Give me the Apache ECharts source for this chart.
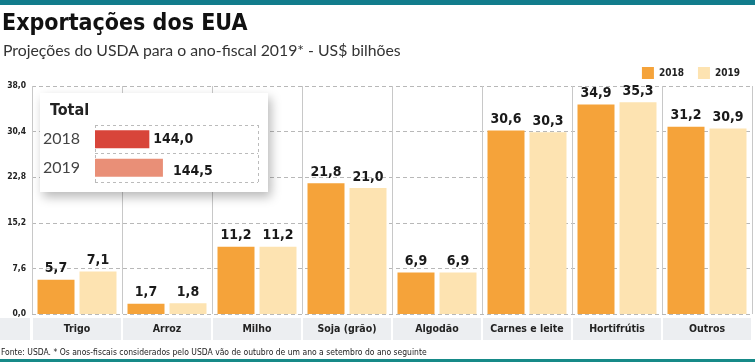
<!DOCTYPE html>
<html><head><meta charset="utf-8">
<script src="https://cdn.jsdelivr.net/npm/echarts@6/dist/echarts.min.js"></script>
<style>html,body{margin:0;padding:0;background:#fff}#c{width:755px;height:362px}</style>
</head><body><div id="c"></div>
<script>
const categories = ['Trigo','Arroz','Milho','Soja (grão)','Algodão','Carnes e leite','Hortifrútis','Outros'];
const values2018 = [5.7, 1.7, 11.2, 21.8, 6.9, 30.6, 34.9, 31.2];
const values2019 = [7.1, 1.8, 11.2, 21.0, 6.9, 30.3, 35.3, 30.9];
const totalYears = ['2018','2019'];
const totalValues = [144.0, 144.5];
const yTicks = [0, 7.6, 15.2, 22.8, 30.4, 38.0];

const C18 = '#f5a33a', C19 = '#fde3b1';
const cond = "'DejaVu Sans Condensed',sans-serif";
const fmt = v => v.toFixed(1).replace('.', ',');

const chart = echarts.init(document.getElementById('c'));
chart.setOption({
  animation: false,
  title: [
    {text: 'Exportações dos EUA', left: -3, top: 8, textStyle: {fontFamily: cond, fontWeight: 'bold', fontSize: 23, color: '#111'}},
    {text: 'Projeções do USDA para o ano-fiscal 2019* - US$ bilhões', left: -2, top: 38, textStyle: {fontFamily: 'Lato', fontWeight: 'normal', fontSize: 15.8, color: '#333'}},
    {text: 'Fonte: USDA. * Os anos-fiscais considerados pelo USDA vão de outubro de um ano a setembro do ano seguinte', left: -4, top: 343, textStyle: {fontFamily: cond, fontWeight: 'normal', fontSize: 8.5, color: '#222'}},
    {text: 'Total', left: 45, top: 98, z: 10, textStyle: {fontFamily: cond, fontWeight: 'bold', fontSize: 16, color: '#222'}}
  ],
  legend: {
    data: ['2018','2019'], right: 10, top: 62, itemWidth: 12, itemHeight: 12, itemGap: 14,
    icon: 'rect',
    textStyle: {fontFamily: cond, fontWeight: 'bold', fontSize: 10, color: '#222'}
  },
  graphic: [
    {type: 'rect', shape: {x: 0, y: 0, width: 755, height: 5}, style: {fill: '#127c8c'}},
    {type: 'rect', shape: {x: 0, y: 359, width: 755, height: 3}, style: {fill: '#168a88'}},
    {type: 'rect', shape: {x: 0, y: 318, width: 30, height: 22}, style: {fill: '#eceef1'}},
    {type: 'rect', z: 1, shape: {x: 40, y: 93, width: 228, height: 99}, style: {fill: '#fff', shadowBlur: 10, shadowOffsetX: 3, shadowOffsetY: 5, shadowColor: 'rgba(0,0,0,0.28)'}}
  ],
  grid: [
    {left: 32, right: 3, top: 86, bottom: 48},
    {left: 95, top: 125, width: 163, height: 57}
  ],
  xAxis: [
    {type: 'category', gridIndex: 0, data: categories, z: 0,
     axisLine: {show: false}, axisTick: {show: false},
     splitLine: {show: true, interval: 0, lineStyle: {color: '#c8c8c8', width: 1}},
     axisLabel: {interval: 0, margin: 4, width: 88, height: 22, lineHeight: 22, align: 'center',
       backgroundColor: '#eceef1', fontFamily: cond, fontWeight: 'bold', fontSize: 10.5, color: '#222'}},
    {type: 'value', gridIndex: 1, min: 142, max: 148, interval: 6, z: 5,
     axisLine: {show: false}, axisTick: {show: false}, axisLabel: {show: false},
     splitLine: {show: true, lineStyle: {color: '#bbb', type: [3, 3]}}}
  ],
  yAxis: [
    {type: 'value', gridIndex: 0, min: 0, max: 38, interval: 7.6, z: 0,
     axisLine: {show: false}, axisTick: {show: false},
     axisLabel: {formatter: v => fmt(v), margin: 6, fontFamily: cond, fontWeight: 'bold', fontSize: 8.5, color: '#222'},
     splitLine: {lineStyle: {color: '#b8b8b8', type: [4, 3]}}},
    {type: 'category', gridIndex: 1, data: totalYears, inverse: true, z: 5,
     axisLine: {show: false}, axisTick: {show: false},
     splitLine: {show: true, interval: 0, lineStyle: {color: '#bbb', type: [3, 3]}},
     axisLabel: {margin: 15, fontFamily: 'Lato', fontSize: 16, color: '#444'}}
  ],
  series: [
    {name: '2018', type: 'bar', xAxisIndex: 0, yAxisIndex: 0, data: values2018, barWidth: 37, barGap: '13.5%',
     itemStyle: {color: C18},
     label: {show: true, position: 'top', distance: 4, formatter: p => fmt(p.value), fontFamily: cond, fontWeight: 'bold', fontSize: 14, color: '#1a1a1a'}},
    {name: '2019', type: 'bar', xAxisIndex: 0, yAxisIndex: 0, data: values2019, barWidth: 37, barGap: '13.5%',
     itemStyle: {color: C19},
     label: {show: true, position: 'top', distance: 4, formatter: p => fmt(p.value), fontFamily: cond, fontWeight: 'bold', fontSize: 14, color: '#1a1a1a'}},
    {type: 'bar', xAxisIndex: 1, yAxisIndex: 1, z: 6, barWidth: 18,
     data: [
       {value: totalValues[0], itemStyle: {color: '#d8453a'}, label: {offset: [0, 0]}},
       {value: totalValues[1], itemStyle: {color: '#e98f77'}, label: {offset: [6, 4]}}
     ],
     label: {show: true, position: 'right', distance: 4, formatter: p => fmt(p.value), fontFamily: cond, fontWeight: 'bold', fontSize: 14, color: '#1a1a1a'}}
  ]
});
</script></body></html>
